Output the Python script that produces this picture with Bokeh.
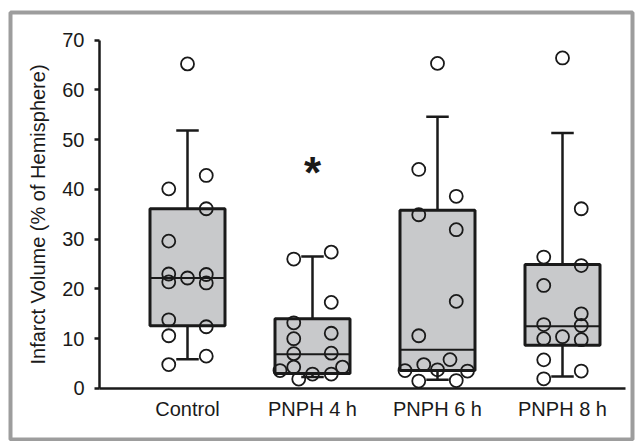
from bokeh.plotting import figure
from bokeh.models import LinearAxis, FixedTicker, Range1d, ColumnDataSource
from bokeh.embed import file_html
from bokeh.resources import INLINE
from bokeh.core.properties import value

# ---------------- data ----------------
categories = ["Control", "PNPH 4 h", "PNPH 6 h", "PNPH 8 h"]
q1 = [12.6, 3.0, 3.6, 8.7]
medians = [22.2, 6.9, 7.8, 12.5]
q3 = [36.1, 14.0, 35.8, 24.9]
whisker_low = [5.9, 2.3, 1.75, 2.4]
whisker_high = [51.8, 26.5, 54.6, 51.3]

control_vals = [65.2, 42.8, 40.1, 36.1, 29.6, 23.0, 21.4, 22.2, 22.9, 21.2, 13.8, 12.4, 10.6, 6.5, 4.8]
control_jit = [0, 0.15, -0.15, 0.15, -0.15, -0.15, -0.15, 0, 0.15, 0.15, -0.15, 0.15, -0.15, 0.15, -0.15]

pnph4_vals = [27.4, 26.0, 17.3, 13.2, 11.1, 10.0, 7.1, 7.0, 4.3, 3.6, 1.9, 2.9, 2.9, 4.3]
pnph4_jit = [0.15, -0.15, 0.15, -0.15, 0.15, -0.15, 0.15, -0.15, -0.15, -0.26, -0.11, 0, 0.15, 0.24]

pnph6_vals = [65.3, 44.0, 38.6, 34.9, 31.9, 17.5, 10.6, 3.6, 4.8, 3.75, 5.8, 3.5, 1.5, 1.6]
pnph6_jit = [0, -0.15, 0.15, -0.15, 0.15, 0.15, -0.15, -0.26, -0.11, 0, 0.10, 0.24, -0.15, 0.15]

pnph8_vals = [66.4, 36.1, 26.4, 24.7, 20.7, 15.0, 12.65, 9.8, 12.85, 10.0, 10.4, 5.75, 1.95, 3.5]
pnph8_jit = [0, 0.15, -0.15, 0.15, -0.15, 0.15, 0.15, 0.15, -0.15, -0.15, 0, -0.15, -0.15, 0.15]

y_ticks = [0, 10, 20, 30, 40, 50, 60, 70]
y_label = "Infarct Volume (% of Hemisphere)"
sig_group = 1          # index of group marked significant
sig_mark_y = 43.4      # height of the significance mark

# ---------------- figure ----------------
FONT = "Liberation Sans"
INK = "#1a1a1a"

p = figure(width=641, height=441,
           x_range=Range1d(-0.416, 4.56), y_range=Range1d(-10.244, 75.524),
           x_axis_type=None, y_axis_type=None,
           toolbar_location=None, output_backend="svg",
           min_border_left=10, min_border_right=9, min_border_top=12, min_border_bottom=2)
p.outline_line_color = "#9d9d9d"
p.outline_line_width = 4
p.background_fill_color = "white"
p.border_fill_color = "white"

xs = [i + 1 for i in range(len(categories))]
box_half = 0.3
cap_half = 0.09

src = ColumnDataSource(dict(
    x=xs, q1=q1, med=medians, q3=q3, lo=whisker_low, hi=whisker_high,
    left=[x - box_half for x in xs], right=[x + box_half for x in xs],
    cl=[x - cap_half for x in xs], cr=[x + cap_half for x in xs],
))

# whiskers
p.segment(x0="x", y0="q3", x1="x", y1="hi", source=src, line_color=INK, line_width=2.5)
p.segment(x0="x", y0="q1", x1="x", y1="lo", source=src, line_color=INK, line_width=2.5)
p.segment(x0="cl", y0="hi", x1="cr", y1="hi", source=src, line_color=INK, line_width=2.5)
p.segment(x0="cl", y0="lo", x1="cr", y1="lo", source=src, line_color=INK, line_width=2.5)
# boxes
p.quad(left="left", right="right", bottom="q1", top="q3", source=src,
       fill_color="#c8c9cb", line_color=INK, line_width=3)
# medians
p.segment(x0="left", y0="med", x1="right", y1="med", source=src, line_color=INK, line_width=2)

# points
groups = [(control_vals, control_jit), (pnph4_vals, pnph4_jit),
          (pnph6_vals, pnph6_jit), (pnph8_vals, pnph8_jit)]
px, py = [], []
for gx, (vals, jit) in zip(xs, groups):
    for v, j in zip(vals, jit):
        px.append(gx + j)
        py.append(v)
p.scatter(px, py, marker="circle", size=13, fill_alpha=0, line_color=INK, line_width=1.8)

# significance mark
p.text(x=[xs[sig_group]], y=[sig_mark_y], text=["*"], text_font=value(FONT),
       text_font_size="44px", text_font_style="bold", text_color=INK,
       text_align="center", text_baseline="middle")

# ---------------- axes ----------------
x_axis_pos = 0.296
x_axis_end = 4.504

yaxis = LinearAxis(fixed_location=x_axis_pos, bounds=(0, 70),
                   ticker=FixedTicker(ticks=y_ticks),
                   axis_label=y_label)
yaxis.axis_line_color = INK
yaxis.axis_line_width = 2.5
yaxis.major_tick_line_color = INK
yaxis.major_tick_line_width = 2.5
yaxis.major_tick_out = 5
yaxis.major_tick_in = 0
yaxis.minor_tick_out = 0
yaxis.minor_tick_in = 0
yaxis.major_label_text_font = FONT
yaxis.major_label_text_font_size = "20px"
yaxis.major_label_text_color = INK
yaxis.major_label_standoff = 10
yaxis.axis_label_text_font = FONT
yaxis.axis_label_text_font_size = "20px"
yaxis.axis_label_text_font_style = "normal"
yaxis.axis_label_text_color = INK
yaxis.axis_label_standoff = 10
p.add_layout(yaxis, "left")

xaxis = LinearAxis(fixed_location=0, bounds=(x_axis_pos, x_axis_end),
                   ticker=FixedTicker(ticks=xs),
                   major_label_overrides={x: c for x, c in zip(xs, categories)})
xaxis.axis_line_color = INK
xaxis.axis_line_width = 2.5
xaxis.major_tick_out = 0
xaxis.major_tick_in = 0
xaxis.minor_tick_out = 0
xaxis.minor_tick_in = 0
xaxis.major_label_text_font = FONT
xaxis.major_label_text_font_size = "20px"
xaxis.major_label_text_color = INK
xaxis.major_label_standoff = 10
p.add_layout(xaxis, "below")

open("out.html", "w").write(file_html(p, INLINE))
